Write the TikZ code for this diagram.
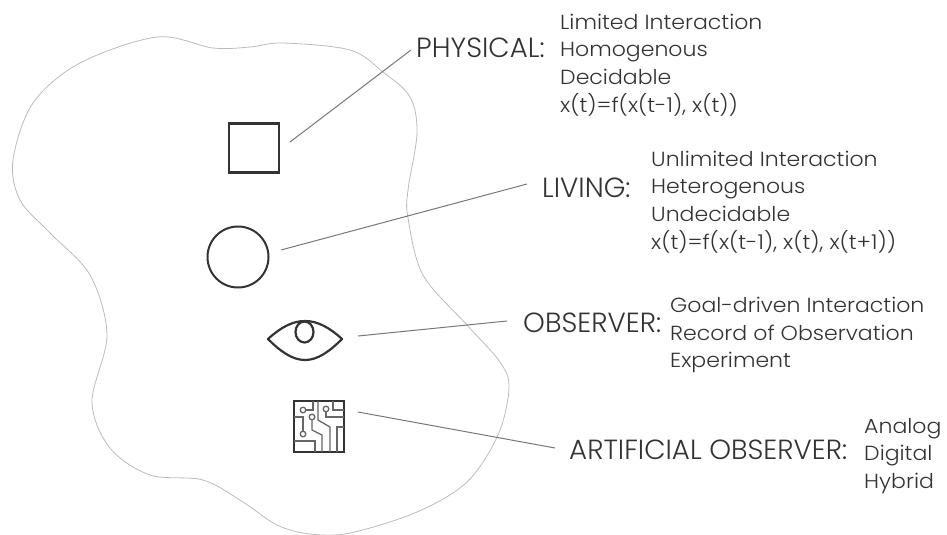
\documentclass[tikz,border=0pt]{standalone}
\usepackage{fontspec}
\setmainfont{Poppins}[UprightFont=* Light]
\newfontfamily\listfont{Poppins}[UprightFont=* Light,FakeStretch=1.08]
\definecolor{ink}{HTML}{333333}
\definecolor{leader}{HTML}{777777}
\definecolor{blobc}{HTML}{BBBBBB}
\tikzset{
  headlabel/.style={font=\fontsize{27.7}{30}\selectfont,text=ink,anchor=west,inner sep=0pt},
  listlabel/.style={font=\listfont\fontsize{20.4}{27.7}\selectfont,text=ink,anchor=west,align=left,inner sep=0pt},
  leaderline/.style={draw=leader,line width=1pt},
  icon/.style={draw=ink,line width=2pt},
  trace/.style={draw=ink!75,line width=1.3pt},
}
\begin{document}
\begin{tikzpicture}[x=1pt,y=-1pt]
\useasboundingbox (0,0) rectangle (947,535);
\draw[blobc,line width=0.8pt] plot[smooth cycle,tension=0.55] coordinates {
(157,37)(213,48)(250,47)(283,43)(350,50)(383,72)(410,97)(417,133)(408,190)(408,218)(423,275)(467,325)(500,362)(509,388)(498,435)(467,482)(417,512)(350,533)(310,534)(277,525)(243,502)(203,480)(150,475)(110,448)(92,402)(107,335)(90,275)(50,233)(20,200)(13,160)(33,103)(80,63)};
% icons
\node[icon,line width=2.8pt,minimum width=50pt,minimum height=49pt,inner sep=0pt] (square) at (254,148) {};
\node[icon,circle,minimum size=61pt,inner sep=0pt] (circ) at (238,257) {};
\coordinate (eyeL) at (268,339);
\coordinate (eyeR) at (342,339);
\draw[icon,line width=2.2pt,line join=round] (eyeL) .. controls (280,328) and (292,321) .. (305,321) .. controls (318,321) and (330,328) .. (eyeR) .. controls (330,351) and (318,360) .. (305,360) .. controls (292,360) and (280,351) .. (eyeL) -- cycle;
\draw[icon,line width=2.2pt] (304.5,332) ellipse [x radius=9,y radius=10.5];
% chip
\draw[icon] (294,401) rectangle (344,452);
\draw[trace] (305,410) -- (313,410) -- (313,401);
\draw[trace] (294,417) -- (303,417) -- (303,431);
\draw[trace] (312,420) -- (312,430) -- (322,435) -- (322,452);
\draw[trace] (294,441) -- (315,441) -- (315,452);
\draw[trace] (318,401) -- (318,420) -- (330,427) -- (330,452);
\draw[trace] (326,412) -- (326,417) -- (344,417);
\draw[trace] (333,401) -- (333,410) -- (344,410);
\draw[trace] (337,452) -- (337,427) -- (344,427);
\foreach \p/\q in {303/410,312/417,326/409,303/434}
  \draw[trace,fill=white] (\p,\q) circle (2.8);
% labels
\node[headlabel] (physical) at (416,48) {PHYSICAL:};
\node[listlabel] (plist) at (560,65) {Limited Interaction\\Homogenous\\Decidable\\x(t)=f(x(t-1), x(t))};
\node[headlabel] (living) at (542,188) {LIVING:};
\node[listlabel] (llist) at (651,202) {Unlimited Interaction\\Heterogenous\\Undecidable\\x(t)=f(x(t-1), x(t), x(t+1))};
\node[headlabel] (observer) at (523,323) {OBSERVER:};
\node[listlabel] (olist) at (670,335) {Goal-driven Interaction\\Record of Observation\\Experiment};
\node[headlabel] (artificial) at (569,450) {ARTIFICIAL OBSERVER:};
\node[listlabel] (alist) at (864,456) {Analog\\Digital\\Hybrid};
% leaders
\coordinate (a1) at (290,142); \coordinate (b1) at (411,50);
\coordinate (a2) at (281,250); \coordinate (b2) at (527,184);
\coordinate (a3) at (358,336); \coordinate (b3) at (507,321);
\coordinate (a4) at (358,412); \coordinate (b4) at (555,448);
\draw[leaderline] (a1) -- (b1);
\draw[leaderline] (a2) -- (b2);
\draw[leaderline] (a3) -- (b3);
\draw[leaderline] (a4) -- (b4);
\end{tikzpicture}
\end{document}
